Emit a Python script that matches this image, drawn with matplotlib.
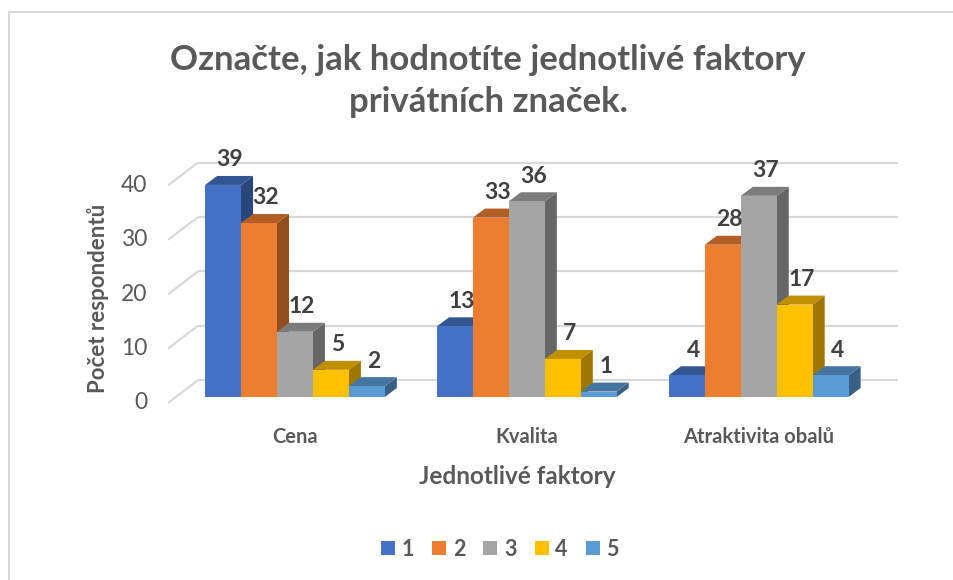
import matplotlib.pyplot as plt
from matplotlib.lines import Line2D
from matplotlib.patches import Patch, Polygon
import matplotlib.colors as mcolors

plt.rcParams["font.family"] = ["Lato", "DejaVu Sans"]

categories = ["Cena", "Kvalita", "Atraktivita obalů"]
series_names = ["1", "2", "3", "4", "5"]
values = [
    [39, 13, 4],   # 1
    [32, 33, 28],  # 2
    [12, 36, 37],  # 3
    [5, 7, 17],    # 4
    [2, 1, 4],     # 5
]
y_ticks = [0, 10, 20, 30, 40]

title = "Označte, jak hodnotíte jednotlivé faktory\nprivátních značek."
x_label = "Jednotlivé faktory"
y_label = "Počet respondentů"

colors = ["#4472C4", "#ED7D31", "#A5A5A5", "#FFC000", "#5B9BD5"]
text_grey = "#595959"
grid_grey = "#D9D9D9"

# fake 3D geometry (category units on x, value units on y)
bar_w = 0.155
bar_dx, bar_dy = 0.052, 1.65
wall_dx, wall_dy = 0.129, 4.2
front_y0 = -1.1
x_left, x_right = -0.547, 2.47


def shade(color, factor):
    r, g, b = mcolors.to_rgb(color)
    return (r * factor, g * factor, b * factor)


fig = plt.figure(figsize=(9.54, 5.8), dpi=100)
ax = fig.add_axes([0.1633, 0.2874, 0.790, 0.450])
ax.set_xlim(-0.6, 2.65)
ax.set_ylim(-3, 45)
ax.axis("off")

# back wall gridlines + left floor diagonals
for v in y_ticks:
    y_front = front_y0 + v
    y_back = y_front + wall_dy
    ax.plot([x_left, x_left + wall_dx], [y_front, y_back], color=grid_grey, lw=1.6, zorder=1,
            solid_capstyle="butt")
    ax.plot([x_left + wall_dx, x_right + wall_dx], [y_back, y_back], color=grid_grey, lw=1.6,
            zorder=1, solid_capstyle="butt")
    ax.text(x_left - 0.09, y_front, str(v), ha="right", va="center", fontsize=16.5, color=text_grey)

# bars, left to right so each front face hides the previous side
z = 2
for ci, cat in enumerate(categories):
    for si, color in enumerate(colors):
        h = values[si][ci]
        x0 = ci + (si - 2.5) * bar_w
        x1 = x0 + bar_w
        front = Polygon([(x0, 0), (x1, 0), (x1, h), (x0, h)], closed=True,
                        facecolor=color, edgecolor="none", zorder=z)
        side = Polygon([(x1, 0), (x1 + bar_dx, bar_dy), (x1 + bar_dx, h + bar_dy), (x1, h)],
                       closed=True, facecolor=shade(color, 0.62), edgecolor="none", zorder=z)
        top = Polygon([(x0, h), (x1, h), (x1 + bar_dx, h + bar_dy), (x0 + bar_dx, h + bar_dy)],
                      closed=True, facecolor=shade(color, 0.75), edgecolor="none", zorder=z)
        for p in (side, top, front):
            ax.add_patch(p)
        z += 1
        ax.text(x0 + bar_w / 2 + 0.03, h + 4.6, str(h), ha="center", va="center",
                fontsize=16.5, fontweight="bold", color="#404040", zorder=50)
    ax.text(ci, -7.35, cat, ha="center", va="center", fontsize=14.5, fontweight="bold",
            color=text_grey)

fig.text(0.5115, 1 - 81 / 580, title, ha="center", va="center", fontsize=25, fontweight="bold",
         color=text_grey, linespacing=1.42)
fig.text(0.542, 1 - 476 / 580, x_label, ha="center", va="center", fontsize=17.5,
         fontweight="bold", color=text_grey)
fig.text(98 / 954, 1 - 298 / 580, y_label, ha="center", va="center", rotation=90,
         fontsize=16, fontweight="bold", color=text_grey)

handles = [Patch(facecolor=c, edgecolor="none", label=n) for c, n in zip(colors, series_names)]
leg = fig.legend(handles=handles, loc="center", bbox_to_anchor=(0.524, 1 - 549 / 580), ncol=5,
                 frameon=False, handlelength=0.65, handleheight=0.65, handletextpad=0.3,
                 columnspacing=0.85, prop={"size": 15.5, "weight": "bold"})
for t in leg.get_texts():
    t.set_color(text_grey)

# chart border (only top and left edges are inside the picture)
fig.add_artist(Line2D([9 / 954, 9 / 954], [0, 1 - 12 / 580], color="#D9D9D9", lw=1.5))
fig.add_artist(Line2D([9 / 954, 1], [1 - 12 / 580, 1 - 12 / 580], color="#D9D9D9", lw=1.5))

fig.savefig("out.png", dpi=100)
